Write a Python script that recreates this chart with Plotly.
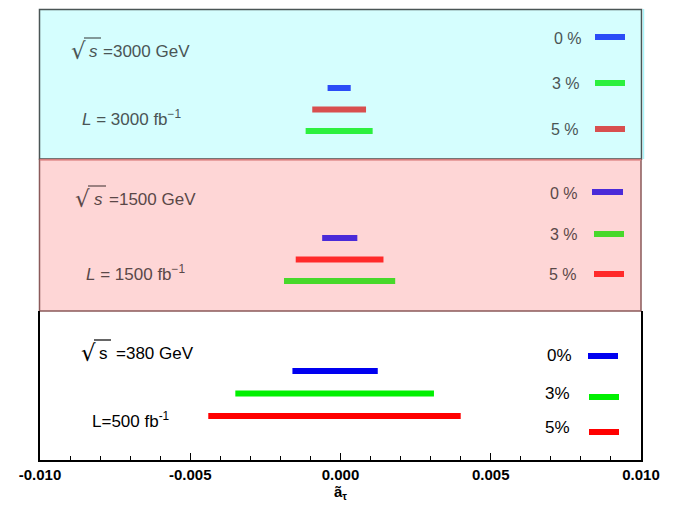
import plotly.graph_objects as go

# ---- data (a_tau bounds) ----
pct_labels = ["0 %", "3 %", "5 %"]
pct_labels_380 = ["0%", "3%", "5%"]

# sqrt(s)=3000 GeV, L=3000 fb^-1  (rows top->bottom: 0%, 5%, 3%)
lo_3000 = [-0.00043, -0.00094, -0.00116]
hi_3000 = [0.00034, 0.00085, 0.00107]
sys_3000 = ["0 %", "5 %", "3 %"]

# sqrt(s)=1500 GeV, L=1500 fb^-1 (rows top->bottom: 0%, 5%, 3%)
lo_1500 = [-0.00061, -0.00149, -0.00188]
hi_1500 = [0.00056, 0.00143, 0.00182]
sys_1500 = ["0 %", "5 %", "3 %"]

# sqrt(s)=380 GeV, L=500 fb^-1 (rows top->bottom: 0%, 3%, 5%)
lo_380 = [-0.00160, -0.00350, -0.00440]
hi_380 = [0.00124, 0.00311, 0.00400]
sys_380 = ["0%", "3%", "5%"]

x_tickvals = [-0.010, -0.005, 0.0, 0.005, 0.010]
x_ticktext = ["-0.010", "-0.005", "0.000", "0.005", "0.010"]

rows = [3, 2, 1]

col_3000 = {"0 %": "#2b4cf7", "3 %": "#2cf03e", "5 %": "#d84f4f"}
col_1500 = {"0 %": "#4a2bd8", "3 %": "#48d82a", "5 %": "#ff2a2a"}
col_380 = {"0%": "#0000f0", "3%": "#00f000", "5%": "#ff0000"}

W, H = 689, 506
L_PX, R_PX, T_PX, B_PX = 40, 641, 9, 460

def xp(px):
    return (px - L_PX) / (R_PX - L_PX)

def yp(py):
    return (B_PX - py) / (B_PX - T_PX)

fig = go.Figure()

panels = [
    ("y3", lo_3000, hi_3000, sys_3000, col_3000),
    ("y2", lo_1500, hi_1500, sys_1500, col_1500),
    ("y", lo_380, hi_380, sys_380, col_380),
]
for yax, lo, hi, sys, cols in panels:
    for r, a, b, s in zip(rows, lo, hi, sys):
        fig.add_trace(go.Scatter(x=[a, b], y=[r, r], mode="lines", yaxis=yax,
                                 line=dict(color=cols[s], width=6),
                                 showlegend=False, hoverinfo="skip"))

shapes = []
annotations = []

# panel backgrounds
shapes.append(dict(type="rect", xref="paper", yref="paper", x0=xp(39.5), x1=xp(641.5),
                   y0=yp(159), y1=yp(9.5), fillcolor="#d5fefe",
                   line=dict(color="#4a5555", width=1.5), layer="below"))
shapes.append(dict(type="line", xref="paper", yref="paper", x0=xp(643.5), x1=xp(643.5),
                   y0=yp(159), y1=yp(9), line=dict(color="#a8f6fb", width=1.5), layer="below"))
shapes.append(dict(type="rect", xref="paper", yref="paper", x0=xp(39.5), x1=xp(641),
                   y0=yp(311), y1=yp(159.5), fillcolor="#fed6d6",
                   line=dict(color="#8a5a5a", width=1.5), layer="below"))
shapes.append(dict(type="line", xref="paper", yref="paper", x0=xp(40), x1=xp(641),
                   y0=yp(159.8), y1=yp(159.8), line=dict(color="#f08a8a", width=1.2), layer="below"))

# legend lines
legend_items = [
    (pct_labels, [col_3000[p] for p in pct_labels], [(595, 625, 37), (595, 625, 83), (595, 625, 129)],
     [(584, 38), (582, 83), (581, 129)], "#4a5555", 16),
    (pct_labels, [col_1500[p] for p in pct_labels], [(592, 623, 192), (594, 624, 234), (594, 624, 274)],
     [(580, 193), (580, 234), (579, 274)], "#5a4848", 16),
    (pct_labels_380, [col_380[p] for p in pct_labels_380], [(588, 618, 356), (589, 619, 397), (589, 619, 432)],
     [(574, 355), (572, 393), (572, 427)], "#000000", 17),
]
for labels, cols, lines, txts, tcol, fs in legend_items:
    for lab, c, (x0, x1, yy), (tx, ty) in zip(labels, cols, lines, txts):
        shapes.append(dict(type="line", xref="paper", yref="paper", x0=xp(x0), x1=xp(x1),
                           y0=yp(yy), y1=yp(yy), line=dict(color=c, width=6)))
        annotations.append(dict(xref="paper", yref="paper", x=xp(tx), y=yp(ty), text=lab,
                                showarrow=False, xanchor="right", yanchor="middle",
                                font=dict(family="Liberation Sans, Arial", size=fs, color=tcol)))

# sqrt(s) and luminosity labels
labels_info = [
    (78, 84, 101, 38, "s", True, "=3000 GeV", 101, 51, "<i>L</i> = 3000 fb<sup>−1</sup>", 80, 118, "#4a5555"),
    (82, 88, 106, 186, "s", True, "=1500 GeV", 107, 199, "<i>L</i> = 1500 fb<sup>−1</sup>", 84, 273, "#5a4848"),
    (88, 94, 111, 340, "s", False, "=380 GeV", 114, 353, "L=500 fb<sup>-1</sup>", 90, 420, "#000000"),
]
for rx, ox0, ox1, oy, stxt, sit, rest, restx, yy, ltxt, lx, ly, c in labels_info:
    annotations.append(dict(xref="paper", yref="paper", x=xp(rx), y=yp(yy), text="√",
                            showarrow=False, xanchor="center", yanchor="middle",
                            font=dict(family="DejaVu Sans", size=23, color=c)))
    shapes.append(dict(type="line", xref="paper", yref="paper", x0=xp(ox0), x1=xp(ox1),
                       y0=yp(oy), y1=yp(oy), line=dict(color=c, width=1.2)))
    annotations.append(dict(xref="paper", yref="paper", x=xp((ox0 + ox1) / 2 + 1), y=yp(yy), text=(f"<i>{stxt}</i>" if sit else stxt),
                            showarrow=False, xanchor="center", yanchor="middle",
                            font=dict(family="Liberation Sans, Arial", size=17, color=c)))
    annotations.append(dict(xref="paper", yref="paper", x=xp(restx), y=yp(yy), text=rest,
                            showarrow=False, xanchor="left", yanchor="middle",
                            font=dict(family="Liberation Sans, Arial", size=17, color=c)))
    annotations.append(dict(xref="paper", yref="paper", x=xp(lx), y=yp(ly), text=ltxt,
                            showarrow=False, xanchor="left", yanchor="middle",
                            font=dict(family="Liberation Sans, Arial", size=17, color=c)))

# x axis title
annotations.append(dict(xref="paper", yref="paper", x=0.5, y=yp(492), text="<b>ã<sub>τ</sub></b>",
                        showarrow=False, xanchor="center", yanchor="middle",
                        font=dict(family="Liberation Sans, Arial", size=15, color="#000")))

d_bot = yp(311)
d_mid = yp(159)

fig.update_layout(
    width=W, height=H,
    margin=dict(l=L_PX, r=W - R_PX, t=T_PX, b=H - B_PX, pad=0),
    paper_bgcolor="white", plot_bgcolor="rgba(0,0,0,0)",
    showlegend=False,
    shapes=shapes, annotations=annotations,
    xaxis=dict(range=[-0.010, 0.010], tickvals=x_tickvals, ticktext=x_ticktext,
               ticks="inside", ticklen=7, tickwidth=1, tickcolor="black",
               minor=dict(dtick=0.001, ticks="inside", ticklen=4, tickwidth=1, tickcolor="black", showgrid=False),
               showline=True, linecolor="black", linewidth=1.5, showgrid=False, zeroline=False,
               tickfont=dict(family="Liberation Sans, Arial", size=15, color="black", weight="bold"),
               anchor="y"),
    yaxis=dict(domain=[0, d_bot], range=[-0.956, 5.67], showticklabels=False, ticks="",
               showgrid=False, zeroline=False, showline=True, linecolor="black", linewidth=1.5,
               mirror=True),
    yaxis2=dict(domain=[d_bot, d_mid], range=[-0.4, 6.67], showticklabels=False, ticks="",
                showgrid=False, zeroline=False, showline=False, anchor="x"),
    yaxis3=dict(domain=[d_mid, 1], range=[-0.3, 6.67], showticklabels=False, ticks="",
                showgrid=False, zeroline=False, showline=False, anchor="x"),
)

fig.write_html("out.html", config={"displayModeBar": False},
               post_script="document.body.style.margin='0px';document.body.style.overflow='hidden';")
